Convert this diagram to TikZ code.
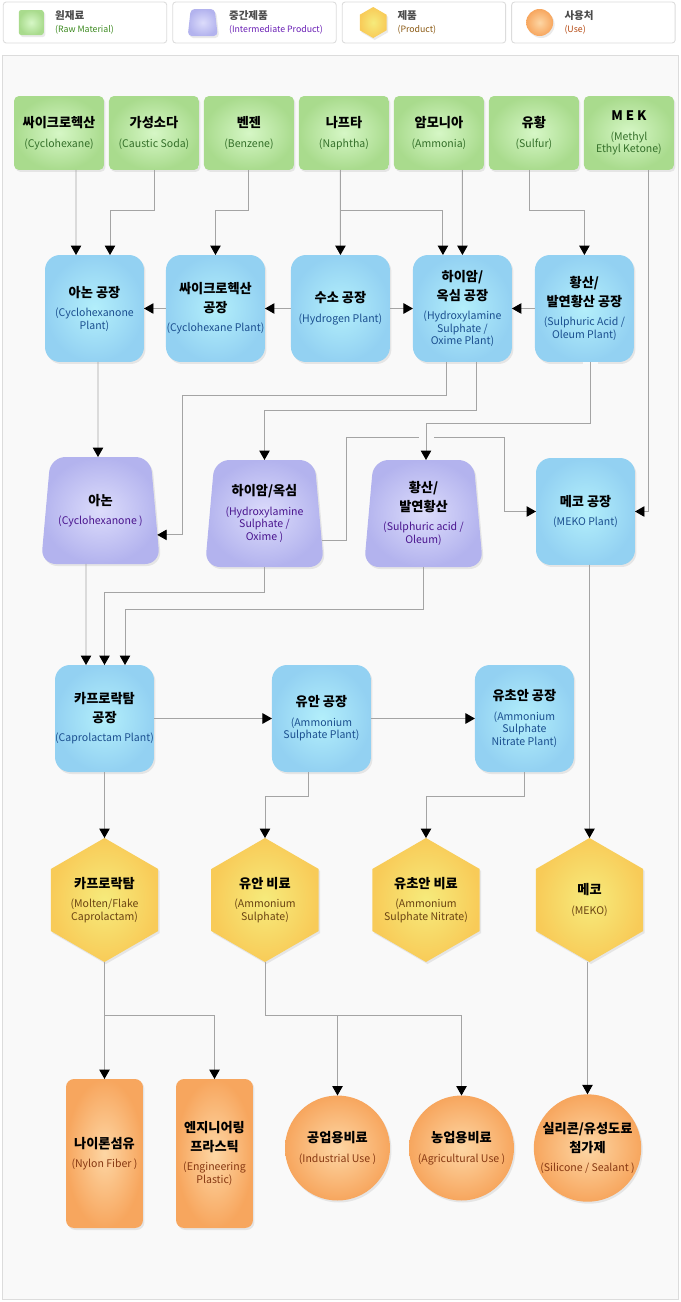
\documentclass[tikz,border=0pt]{standalone}
\usepackage{fontspec}
\setmainfont{Noto Sans CJK KR}
\usetikzlibrary{arrows.meta, positioning, shadows}
\definecolor{rawIn}{HTML}{D6F7C6}
\definecolor{rawOut}{HTML}{A9DB8D}
\definecolor{rawT}{HTML}{35702A}
\definecolor{plantIn}{HTML}{B3EFFB}
\definecolor{plantOut}{HTML}{93D1F2}
\definecolor{plantT}{HTML}{1B4F8F}
\definecolor{midIn}{HTML}{DCDCFB}
\definecolor{midOut}{HTML}{B3B3EE}
\definecolor{midT}{HTML}{4A148E}
\definecolor{prodIn}{HTML}{F6EB7C}
\definecolor{prodOut}{HTML}{F8CB58}
\definecolor{prodT}{HTML}{6A4312}
\definecolor{useIn}{HTML}{FDD6A4}
\definecolor{useOut}{HTML}{F7A65E}
\definecolor{useT}{HTML}{873812}
\definecolor{legRawT}{HTML}{3C8A1F}
\definecolor{legMidT}{HTML}{6A1FB5}
\definecolor{legProdT}{HTML}{8B5A14}
\definecolor{legUseT}{HTML}{B5470F}
\definecolor{lineG}{HTML}{A4A4A4}
\definecolor{panelG}{HTML}{F9F9F9}
\definecolor{edgeG}{HTML}{DCDCDC}
\definecolor{darkG}{HTML}{4D4D4D}
\newcommand{\entx}[2]{{\fontsize{6}{6.8}\selectfont\mdseries\color{#1}#2}}
\newcommand{\legtx}[2]{{\fontsize{5}{6}\selectfont\mdseries\color{#1}#2}}

\begin{document}
\begin{tikzpicture}[
  x=0.02cm, y=-0.02cm,
  softshadow/.style={drop shadow={shadow xshift=0.03cm, shadow yshift=-0.04cm, opacity=0.16}},
  txtbase/.style={
    font=\fontsize{7.5}{9.8}\selectfont\bfseries,
    align=center, inner sep=0pt, outer sep=0pt
  },
  rawbox/.style={
    txtbase, softshadow, inner color=rawIn, outer color=rawOut,
    rounded corners=0.1cm,
    minimum width=1.8cm, minimum height=1.48cm
  },
  plantbox/.style={
    txtbase, softshadow, inner color=plantIn, outer color=plantOut,
    rounded corners=0.3cm,
    minimum width=1.98cm, minimum height=2.14cm
  },
  midshape/.style={softshadow, inner color=midIn, outer color=midOut, rounded corners=0.3cm},
  midtxt/.style={txtbase, minimum width=2.19cm, minimum height=2.14cm},
  prodshape/.style={softshadow, inner color=prodIn, outer color=prodOut},
  prodtxt/.style={txtbase, shape=circle, minimum size=2.48cm},
  userect/.style={
    txtbase, softshadow, inner color=useIn, outer color=useOut,
    rounded corners=0.16cm,
    minimum width=1.54cm, minimum height=2.98cm
  },
  usecirc/.style={
    txtbase, softshadow, shape=circle, inner color=useIn, outer color=useOut,
    minimum size=2.1cm
  },
  legbox/.style={
    draw=edgeG, fill=white, line width=0.5pt, outer sep=0pt,
    rounded corners=0.06cm,
    minimum width=3.27cm, minimum height=0.82cm
  },
  legtxt/.style={
    font=\fontsize{6}{7.4}\selectfont\bfseries, text=darkG,
    align=left, inner sep=0pt
  },
  arr/.style={-{Triangle[length=0.19cm, width=0.21cm, color=black]}, lineG, line width=0.55pt},
  node distance=0.1cm
]

\path[fill=white, use as bounding box] (0,0) rectangle (680,1302);

%% legend
\node[legbox] (lgRaw) at (85,22.5) {};
\node[legbox, right=0.12cm of lgRaw] (lgMid) {};
\node[legbox, right=0.12cm of lgMid] (lgProd) {};
\node[legbox, right=0.12cm of lgProd] (lgUse) {};

\node[rawbox, minimum width=0.5cm, minimum height=0.5cm, rounded corners=0.05cm]
  (icRaw) at ([xshift=0.56cm]lgRaw.west) {};
\coordinate (icMid) at ([xshift=0.6cm]lgMid.west);
\path[midshape, rounded corners=0.08cm] (icMid) ++(-12,-13.5) -- ++(24,0) -- ++(3,27) -- ++(-30,0) -- cycle;
\coordinate (icProd) at ([xshift=0.62cm]lgProd.west);
\path[prodshape] (icProd) ++(0,-15.5) -- ++(13.4,7.75) -- ++(0,15.5) -- ++(-13.4,7.75)
  -- ++(-13.4,-7.75) -- ++(0,-15.5) -- cycle;
\node[usecirc, minimum size=0.54cm] (icUse) at ([xshift=0.56cm]lgUse.west) {};

\node[legtxt, right=0.22cm of icRaw] (ltRaw) {원재료\\\legtx{legRawT}{(Raw Material)}};
\node[legtxt, anchor=west, xshift=0.52cm] (ltMid) at (icMid) {중간제품\\\legtx{legMidT}{(Intermediate Product)}};
\node[legtxt, anchor=west, xshift=0.48cm] (ltProd) at (icProd) {제품\\\legtx{legProdT}{(Product)}};
\node[legtxt, right=0.22cm of icUse] (ltUse) {사용처\\\legtx{legUseT}{(Use)}};

%% panel
\draw[fill=panelG, draw=edgeG] (2,55) rectangle (678,1299);

%% raw materials
\node[rawbox] (rCyc) at (59,133) {싸이크로헥산\\[1.3pt]\entx{rawT}{(Cyclohexane)}};
\node[rawbox, right=of rCyc] (rSoda) {가성소다\\[1.3pt]\entx{rawT}{(Caustic Soda)}};
\node[rawbox, right=of rSoda] (rBenzene) {벤젠\\[1.3pt]\entx{rawT}{(Benzene)}};
\node[rawbox, right=of rBenzene] (rNaphtha) {나프타\\[1.3pt]\entx{rawT}{(Naphtha)}};
\node[rawbox, right=of rNaphtha] (rAmmonia) {암모니아\\[1.3pt]\entx{rawT}{(Ammonia)}};
\node[rawbox, right=of rAmmonia] (rSulfur) {유황\\[1.3pt]\entx{rawT}{(Sulfur)}};
\node[rawbox, right=of rSulfur] (rMek)
  {M E K\\[1.3pt]\entx{rawT}{(Methyl}\\[-2.7pt]\entx{rawT}{Ethyl Ketone)}};

%% plants
\node[plantbox] (pAnone) at (94.5,308.5)
  {아논 공장\\[1.3pt]\entx{plantT}{(Cyclohexanone}\\[-2.7pt]\entx{plantT}{Plant)}};
\node[plantbox, right=0.44cm of pAnone] (pCyclohexane)
  {싸이크로헥산\\[0.7pt]공장\\[1.3pt]\entx{plantT}{(Cyclohexane Plant)}};
\node[plantbox, right=0.52cm of pCyclohexane] (pHydrogen)
  {수소 공장\\[1.3pt]\entx{plantT}{(Hydrogen Plant)}};
\node[plantbox, right=0.46cm of pHydrogen] (pOxime)
  {하이암/\\[0.7pt]옥심 공장\\[1.3pt]\entx{plantT}{(Hydroxylamine}\\[-2.7pt]%
   \entx{plantT}{Sulphate /}\\[-2.7pt]\entx{plantT}{Oxime Plant)}};
\node[plantbox, right=0.46cm of pOxime] (pSulfuric)
  {황산/\\[0.7pt]발연황산 공장\\[1.3pt]\entx{plantT}{(Sulphuric Acid /}\\[-2.7pt]%
   \entx{plantT}{Oleum Plant)}};

\draw[arr] ([xshift=0.34cm]rCyc.south) -- ([xshift=-0.37cm]pAnone.north);
\draw[arr] (rSoda.south) -- ++(0,40) -| ([xshift=0.31cm]pAnone.north);
\draw[arr] (rBenzene.south) -- ++(0,40) -| (pCyclohexane.north);
\draw[arr] ([xshift=-0.07cm]rNaphtha.south) -- (pHydrogen.north);
\draw[arr] ([xshift=-0.07cm]rNaphtha.south) -- ++(0,40) -| ([xshift=-0.39cm]pOxime.north);
\draw[arr] ([xshift=0.47cm]rAmmonia.south) -- (pOxime.north);
\draw[arr] ([xshift=-0.08cm]rSulfur.south) -- ++(0,40) -| (pSulfuric.north);

\draw[arr] (pCyclohexane) -- (pAnone);
\draw[arr] (pHydrogen) -- (pCyclohexane);
\draw[arr] (pHydrogen) -- (pOxime);
\draw[arr] (pSulfuric) -- (pOxime);

%% intermediates (trapezoids)
\coordinate (cAnone) at (100.5,510.5);
\coordinate (cOxime) at (264.5,513.5);
\coordinate (cSulfuric) at (423.5,513.5);
\foreach \c in {cAnone, cOxime, cSulfuric}
  \path[midshape] (\c) ++(-50,-53.5) -- ++(100,0) -- ++(9.5,107) -- ++(-119,0) -- cycle;

\node[midtxt] (mAnone) at (cAnone)
  {아논\\[1.3pt]\entx{midT}{(Cyclohexanone )}};
\node[midtxt] (mOxime) at (cOxime)
  {하이암/옥심\\[1.3pt]\entx{midT}{(Hydroxylamine}\\[-2.7pt]\entx{midT}{Sulphate /}\\[-2.7pt]%
   \entx{midT}{Oxime )}};
\node[midtxt] (mSulfuric) at (cSulfuric)
  {황산/\\[0.7pt]발연황산\\[1.3pt]\entx{midT}{(Sulphuric acid /}\\[-2.7pt]\entx{midT}{Oleum)}};
\node[plantbox] (pMeko) at (585.5,511.5)
  {메코 공장\\[1.3pt]\entx{plantT}{(MEKO Plant)}};

\draw[arr] ([xshift=0.4cm]rMek.south) |- (pMeko.east);
\draw[arr] ([xshift=0.07cm]pAnone.south) -- ([xshift=-0.05cm]mAnone.north);
\draw[arr] ([xshift=-0.31cm]pOxime.south) -- ++(0,33) -- ++(-264,0) |- ([xshift=0.04cm]mAnone.-24);
\draw[arr] ([xshift=0.29cm]pOxime.south) -- ++(0,48) -| (mOxime.north);
\draw[arr] ([xshift=0.05cm]mOxime.-26) -| (346,437) -- (504,437) |- (pMeko.west);
\draw[arr, preaction={draw=panelG, line width=0.3cm, arrows=-}]
  ([xshift=0.13cm]pSulfuric.south) -- ++(0,61) -| ([xshift=0.05cm]mSulfuric.north);

%% caprolactam and ammonium plants
\node[plantbox] (pCapro) at (104.5,718.5)
  {카프로락탐\\[0.7pt]공장\\[1.3pt]\entx{plantT}{(Caprolactam Plant)}};
\node[plantbox, right=2.36cm of pCapro] (pAmsul)
  {유안 공장\\[1.3pt]\entx{plantT}{(Ammonium}\\[-2.7pt]\entx{plantT}{Sulphate Plant)}};
\node[plantbox, right=2.08cm of pAmsul] (pAsn)
  {유초안 공장\\[1.3pt]\entx{plantT}{(Ammonium}\\[-2.7pt]\entx{plantT}{Sulphate}\\[-2.7pt]%
   \entx{plantT}{Nitrate Plant)}};

\draw[arr] ([xshift=-0.29cm]mAnone.south) -- ([xshift=-0.37cm]pCapro.north);
\draw[arr] (mOxime.south) -- ++(0,25) -| (pCapro.north);
\draw[arr] (mSulfuric.south) -- ++(0,42) -| ([xshift=0.41cm]pCapro.north);
\draw[arr] (pCapro) -- (pAmsul);
\draw[arr] (pAmsul) -- (pAsn);

%% products (hexagons)
\coordinate (cCapro) at (104.5,900);
\coordinate (cAmsul) at (265,900);
\coordinate (cAsn) at (426,900);
\coordinate (cMeko) at (589.5,900);
\foreach \c in {cCapro, cAmsul, cAsn, cMeko}
  \path[prodshape] (\c) ++(0,-62) -- ++(53.7,31) -- ++(0,62) -- ++(-53.7,31)
    -- ++(-53.7,-31) -- ++(0,-62) -- cycle;

\node[prodtxt] (dCapro) at (cCapro)
  {카프로락탐\\[1.3pt]\entx{prodT}{(Molten/Flake}\\[-2.7pt]\entx{prodT}{Caprolactam)}};
\node[prodtxt] (dAmsul) at (cAmsul)
  {유안 비료\\[1.3pt]\entx{prodT}{(Ammonium}\\[-2.7pt]\entx{prodT}{Sulphate)}};
\node[prodtxt] (dAsn) at (cAsn)
  {유초안 비료\\[1.3pt]\entx{prodT}{(Ammonium}\\[-2.7pt]\entx{prodT}{Sulphate Nitrate)}};
\node[prodtxt] (dMeko) at (cMeko)
  {메코\\[1.3pt]\entx{prodT}{(MEKO)}};

\draw[arr] (pCapro.south) -- (dCapro.north);
\draw[arr] ([xshift=-0.25cm]pAmsul.south) -- ++(0,24) -| (dAmsul.north);
\draw[arr] (pAsn.south) -- ++(0,24) -| (dAsn.north);
\draw[arr] ([xshift=0.08cm]pMeko.south) -- (dMeko.north);

%% uses
\node[userect] (uNylon) at (104.5,1153.5)
  {나이론섬유\\[1.3pt]\entx{useT}{(Nylon Fiber )}};
\node[userect] (uPlastic) at (214.5,1153.5)
  {엔지니어링\\[0.7pt]프라스틱\\[1.3pt]\entx{useT}{(Engineering}\\[-2.7pt]\entx{useT}{Plastic)}};
\node[usecirc] (uIndustrial) at (337.5,1148)
  {공업용비료\\[1.3pt]\entx{useT}{(Industrial Use )}};
\node[usecirc] (uAgri) at (461.5,1148)
  {농업용비료\\[1.3pt]\entx{useT}{(Agricultural Use )}};
\node[usecirc] (uSilicone) at (587.5,1148)
  {실리콘/유성도료\\[0.7pt]첨가제\\[1.3pt]\entx{useT}{(Silicone / Sealant )}};

\draw[arr] (dCapro.south) -- (uNylon.north);
\draw[arr] (dCapro.south) -- ++(0,53) -| (uPlastic.north);
\draw[arr] (dAmsul.south) -- ++(0,53) -| (uIndustrial.north);
\draw[arr] (dAmsul.south) -- ++(0,53) -| (uAgri.north);
\draw[arr] ([xshift=-0.04cm]dMeko.south) -- (uSilicone.north);

\end{tikzpicture}
\end{document}
